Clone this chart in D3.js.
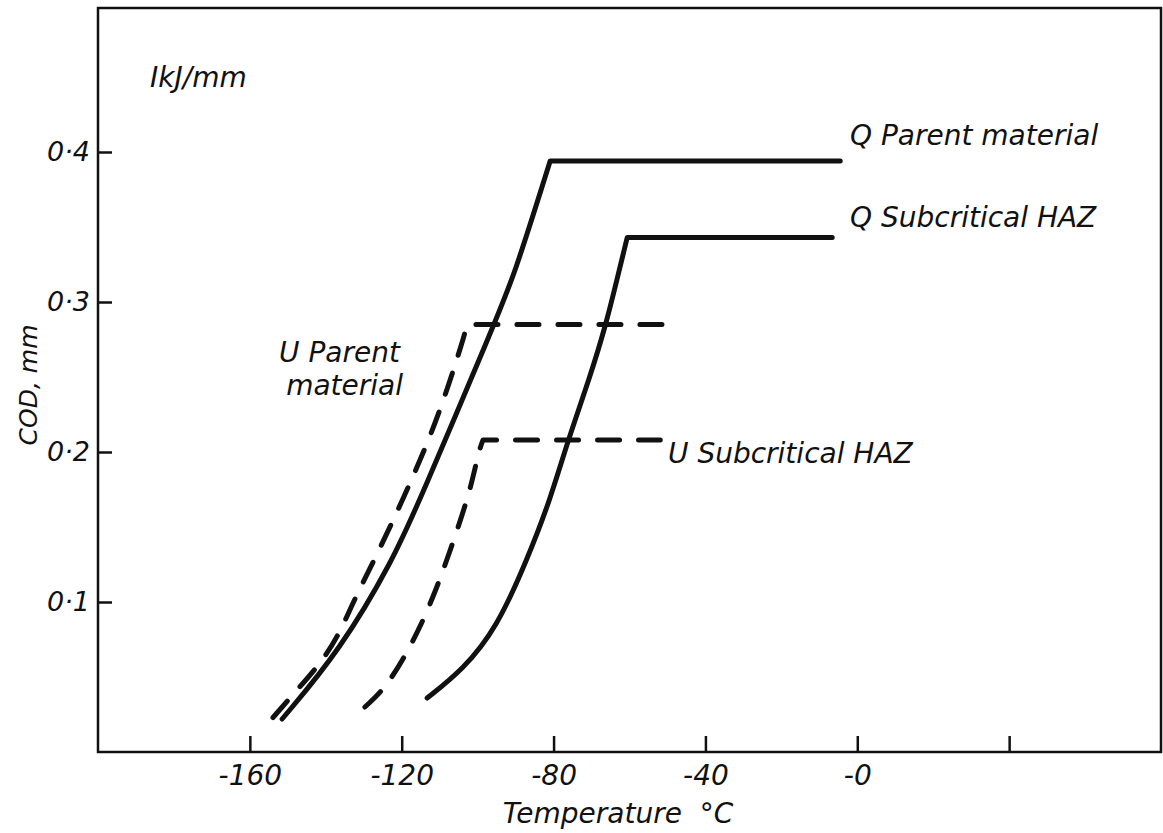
<!DOCTYPE html>
<html>
<head>
<meta charset="utf-8">
<script src="https://cdn.jsdelivr.net/npm/d3@7"></script>
<style>
  html, body { margin: 0; padding: 0; background: #fff; }
  svg { display: block; }
  text { font-family: "DejaVu Sans", sans-serif; font-style: italic; fill: #111; }
</style>
</head>
<body>
<svg id="chart" width="1163" height="833"></svg>
<script>
// ---- data ----
const xTicks = [-160, -120, -80, -40, 0, 40];
const xTickLabels = ["-160", "-120", "-80", "-40", "-0", ""];
const yTicks = [0.1, 0.2, 0.3, 0.4];
const yTickLabels = ["0·1", "0·2", "0·3", "0·4"];

// Q Parent material (solid)
const qParentTemp = [-151.5, -136.2, -122.3, -115.2, -95.7, -90.7, -80.9, -4.5];
const qParentCOD  = [0.022, 0.068, 0.128, 0.168, 0.285, 0.315, 0.394, 0.394];
// Q Subcritical HAZ (solid)
const qSubTemp = [-113.3, -103.8, -94.9, -87.0, -80.9, -76.2, -70.4, -66.2, -63.3, -60.6, -6.6];
const qSubCOD  = [0.036, 0.055, 0.083, 0.128, 0.168, 0.208, 0.25, 0.285, 0.315, 0.343, 0.343];
// U Parent material (dashed)
const uParentTemp = [-153.9, -147.7, -140.7, -136.0, -132.8, -127.6, -119.7, -112.5, -108.1, -103.8, -102.8, -46.7];
const uParentCOD  = [0.023, 0.041, 0.061, 0.081, 0.100, 0.126, 0.168, 0.21, 0.241, 0.275, 0.285, 0.285];
// U Subcritical HAZ (dashed)
const uSubTemp = [-129.7, -124.9, -119.7, -114.6, -110.7, -108.1, -102.0, -99.9, -98.6, -51.9];
const uSubCOD  = [0.030, 0.041, 0.061, 0.086, 0.11, 0.128, 0.173, 0.199, 0.208, 0.208];

const seriesNames = ["Q Parent material", "Q Subcritical HAZ", "U Parent material", "U Subcritical HAZ"];

// ---- layout ----
const svg = d3.select("#chart");
const mLeft = 98, mRight = 1161, mTop = 8, mBottom = 752;
const x = d3.scaleLinear().domain([-200, 80]).range([mLeft, mRight]);
const y = d3.scaleLinear().domain([0, (mBottom - mTop) / 1500]).range([mBottom, mTop]);

// frame
svg.append("rect")
  .attr("x", mLeft).attr("y", mTop)
  .attr("width", mRight - mLeft).attr("height", mBottom - mTop)
  .attr("fill", "none").attr("stroke", "#111").attr("stroke-width", 2.5);

// x axis (ticks pointing inward)
const xAxis = d3.axisBottom(x)
  .tickValues(xTicks)
  .tickSizeInner(-16).tickSizeOuter(0)
  .tickPadding(13)
  .tickFormat((d, i) => xTickLabels[i]);
const gx = svg.append("g").attr("transform", `translate(0,${mBottom})`).call(xAxis);
gx.select(".domain").remove();
gx.selectAll(".tick line").attr("stroke", "#111").attr("stroke-width", 2.5);
gx.selectAll(".tick text").attr("font-size", 28).attr("fill", "#111")
  .attr("font-family", "DejaVu Sans").attr("font-style", "italic");

// y axis (ticks pointing inward)
const yAxis = d3.axisLeft(y)
  .tickValues(yTicks)
  .tickSizeInner(-14).tickSizeOuter(0)
  .tickPadding(8)
  .tickFormat((d, i) => yTickLabels[i]);
const gy = svg.append("g").attr("transform", `translate(${mLeft},0)`).call(yAxis);
gy.select(".domain").remove();
gy.selectAll(".tick line").attr("stroke", "#111").attr("stroke-width", 2.5);
gy.selectAll(".tick text").attr("font-size", 27).attr("fill", "#111")
  .attr("font-family", "DejaVu Sans").attr("font-style", "italic");

// axis titles
svg.append("text").attr("x", 618).attr("y", 823).attr("text-anchor", "middle")
  .attr("font-size", 28).attr("xml:space", "preserve").text("Temperature  °C");
svg.append("text").attr("transform", `translate(37,385) rotate(-90)`)
  .attr("text-anchor", "middle").attr("font-size", 25).text("COD, mm");

// curves: rising part smooth (B-spline), plateau straight
const lineRise = d3.line().x(d => x(d[0])).y(d => y(d[1])).curve(d3.curveBasis);
function curvePath(temps, cods) {
  const pts = temps.map((t, i) => [t, cods[i]]);
  const rise = pts.slice(0, pts.length - 1);
  const end = pts[pts.length - 1];
  return lineRise(rise) + "L" + x(end[0]) + "," + y(end[1]);
}
const curves = [
  { t: qParentTemp, c: qParentCOD, dash: null },
  { t: qSubTemp, c: qSubCOD, dash: null },
  { t: uParentTemp, c: uParentCOD, dash: "22,19" },
  { t: uSubTemp, c: uSubCOD, dash: "22,19" }
];
svg.selectAll("path.curve").data(curves).enter().append("path")
  .attr("class", "curve")
  .attr("d", d => curvePath(d.t, d.c))
  .attr("fill", "none").attr("stroke", "#111").attr("stroke-width", 5)
  .attr("stroke-linecap", "round")
  .attr("stroke-linejoin", "round")
  .attr("stroke-dasharray", d => d.dash);

// annotations
svg.append("text").attr("x", 150).attr("y", 87).attr("font-size", 28).text("IkJ/mm");
svg.append("text").attr("x", 850).attr("y", 145).attr("font-size", 28).text(seriesNames[0]);
svg.append("text").attr("x", 850).attr("y", 227).attr("font-size", 28).text(seriesNames[1]);
svg.append("text").attr("x", 400).attr("y", 362).attr("text-anchor", "end").attr("font-size", 28).text("U Parent");
svg.append("text").attr("x", 403).attr("y", 395).attr("text-anchor", "end").attr("font-size", 28).text("material");
svg.append("text").attr("x", 668).attr("y", 463).attr("font-size", 28).text(seriesNames[3]);
</script>
</body>
</html>
